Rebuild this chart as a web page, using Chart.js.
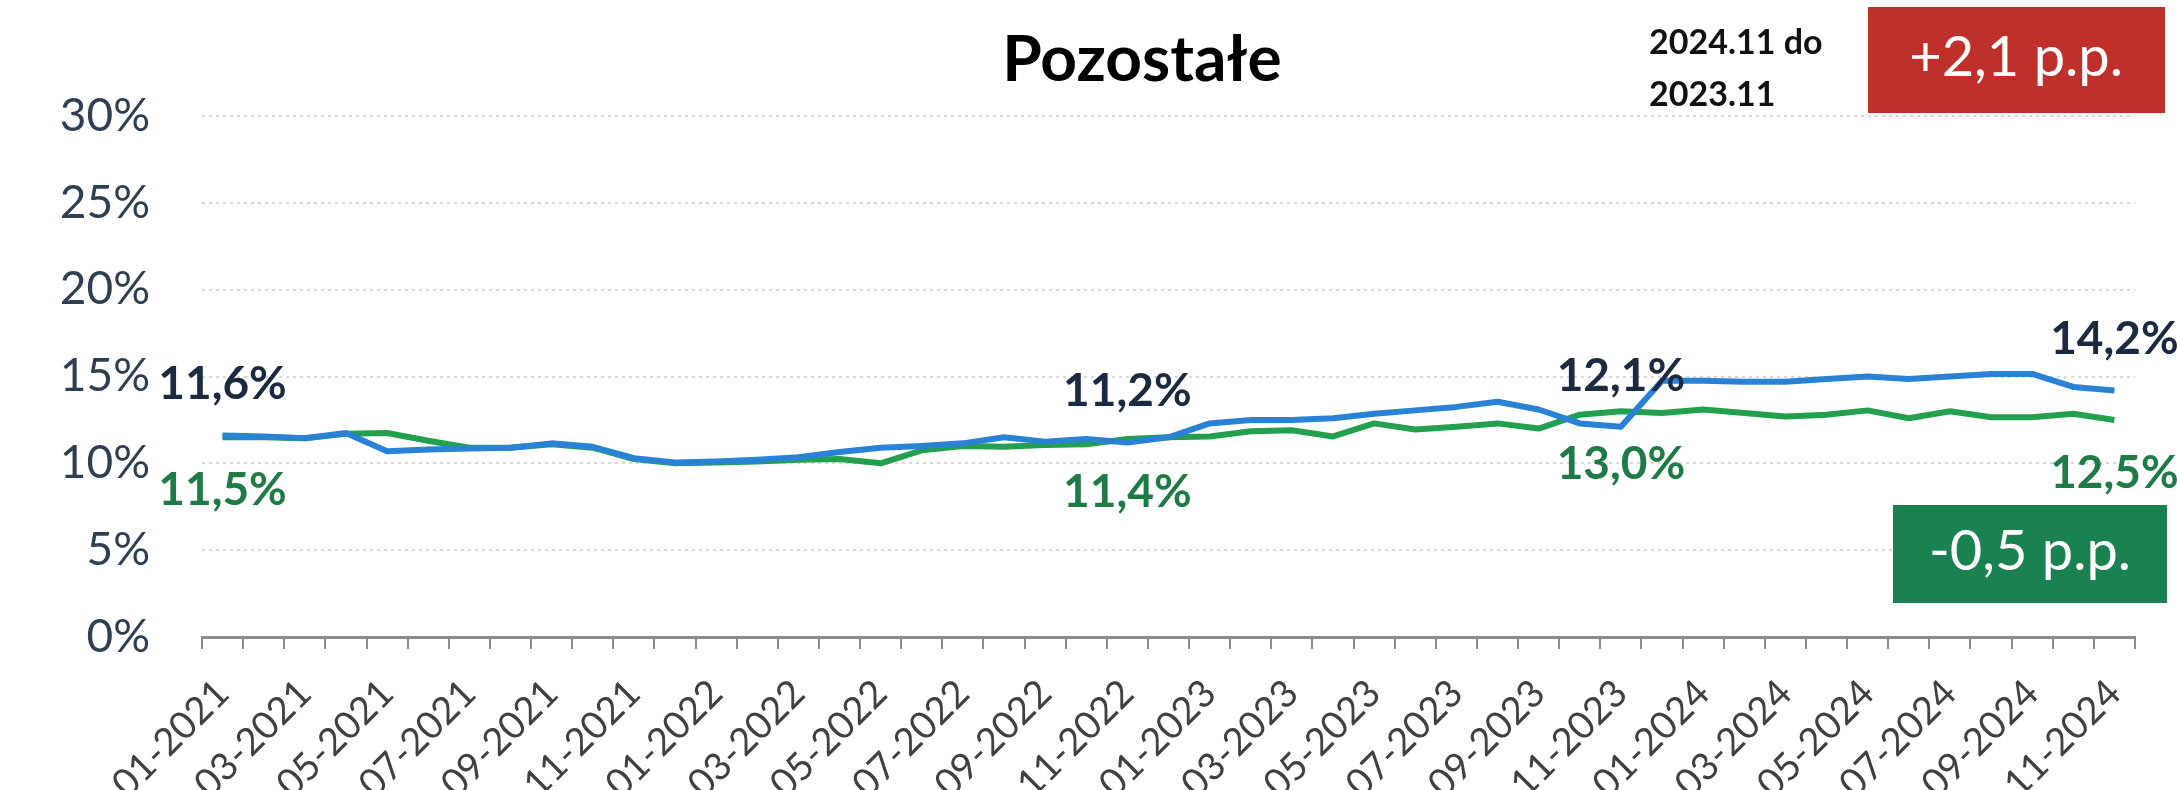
<!DOCTYPE html>
<html>
<head>
<meta charset="utf-8">
<script src="https://cdn.jsdelivr.net/npm/chart.js@4"></script>
<style>
  html, body { margin: 0; padding: 0; background: #fff; }
  #wrap { width: 2177px; height: 790px; position: relative; }
</style>
</head>
<body>
<div id="wrap"><canvas id="chart"></canvas></div>
<script>
// months 01-2021 .. 11-2024
const months = []
for (let y = 2021; y <= 2024; y++) {
  for (let m = 1; m <= 12; m++) {
    if (y === 2024 && m > 11) break
    months.push(String(m).padStart(2, '0') + '-' + y)
  }
}

const blueSeries = [
  11.6, 11.55, 11.45, 11.75, 10.7, 10.8, 10.85, 10.9, 11.15, 10.95,
  10.3, 10.05, 10.1, 10.2, 10.35, 10.65, 10.9, 11.0, 11.15, 11.5,
  11.25, 11.4, 11.2, 11.5, 12.3, 12.5, 12.5, 12.6, 12.85, 13.05,
  13.25, 13.55, 13.1, 12.3, 12.1, 14.75, 14.75, 14.7, 14.7, 14.85,
  15.0, 14.85, 15.0, 15.15, 15.15, 14.4, 14.2
]
const greenSeries = [
  11.5, 11.5, 11.45, 11.7, 11.75, 11.3, 10.9, 10.9, 11.1, 10.9,
  10.25, 10.0, 10.05, 10.1, 10.2, 10.25, 10.0, 10.75, 11.0, 10.95,
  11.05, 11.1, 11.4, 11.5, 11.55, 11.85, 11.9, 11.55, 12.3, 11.95,
  12.1, 12.3, 12.0, 12.8, 13.0, 12.9, 13.1, 12.9, 12.7, 12.8,
  13.05, 12.6, 13.0, 12.65, 12.65, 12.85, 12.5
]
const labelledPoints = [0, 22, 34, 46]
const yTicks = [0, 5, 10, 15, 20, 25, 30]

const chartTitle = 'Pozostałe'
const periodText = ['2024.11 do', '2023.11']
const blueChange = '+2,1 p.p.'
const greenChange = '-0,5 p.p.'

const FONT = "Lato, 'Open Sans', sans-serif"
const BLUE = '#2a82d6'
const GREEN = '#23a04e'

const fmt = (v) => v.toFixed(1).replace('.', ',') + '%'

const annotations = {
  id: 'annotations',
  afterDatasetsDraw(chart) {
    const ctx = chart.ctx
    ctx.save()
    ctx.textAlign = 'center'
    ctx.textBaseline = 'middle'

    // point value labels
    const blueMeta = chart.getDatasetMeta(0)
    const greenMeta = chart.getDatasetMeta(1)
    ctx.font = 'bold 46px ' + FONT
    labelledPoints.forEach(i => {
      const pb = blueMeta.data[i]
      ctx.fillStyle = '#1b2a41'
      ctx.fillText(fmt(blueSeries[i]), pb.x, pb.y - 51)
      const pg = greenMeta.data[i]
      ctx.fillStyle = '#1f7b45'
      ctx.fillText(fmt(greenSeries[i]), pg.x, pg.y + 53)
    })

    // title
    ctx.fillStyle = '#000'
    ctx.font = 'bold 64px ' + FONT
    ctx.fillText(chartTitle, 1142, 60)

    // period text
    ctx.textAlign = 'left'
    ctx.font = 'bold 34px ' + FONT
    ctx.fillStyle = '#111'
    ctx.fillText(periodText[0], 1649, 43)
    ctx.fillText(periodText[1], 1649, 95)

    // change boxes
    ctx.textAlign = 'center'
    ctx.font = '56px ' + FONT
    ctx.fillStyle = '#c0302b'
    ctx.fillRect(1868, 7, 297, 106)
    ctx.fillStyle = '#fff'
    ctx.fillText(blueChange, 2016, 58)

    ctx.fillStyle = '#1a8150'
    ctx.fillRect(1893, 505, 274, 98)
    ctx.fillStyle = '#fff'
    ctx.fillText(greenChange, 2030, 552)
    ctx.restore()
  }
}

new Chart(document.getElementById('chart'), {
  type: 'line',
  data: {
    labels: months,
    datasets: [
      {
        label: 'blue',
        data: blueSeries,
        borderColor: BLUE,
        borderWidth: 6,
        pointRadius: 0,
        tension: 0,
        borderJoinStyle: 'round',
        fill: false,
      },
      {
        label: 'green',
        data: greenSeries,
        borderColor: GREEN,
        borderWidth: 6,
        pointRadius: 0,
        tension: 0,
        borderJoinStyle: 'round',
        fill: false,
      }
    ]
  },
  options: {
    responsive: true,
    maintainAspectRatio: false,
    animation: false,
    layout: { padding: { top: 116, right: 42, left: 0, bottom: 0 } },
    plugins: {
      legend: { display: false },
      tooltip: { enabled: false },
    },
    scales: {
      x: {
        offset: true,
        grid: {
          offset: true,
          drawOnChartArea: false,
          drawTicks: true,
          tickLength: 12,
          color: '#8c8c8c',
          lineWidth: 2,
        },
        border: { display: true, color: '#8c8c8c', width: 3 },
        ticks: {
          autoSkip: false,
          minRotation: 45,
          maxRotation: 45,
          padding: 22,
          color: '#404040',
          font: { family: FONT, size: 38 },
          callback: (v, i) => i % 2 === 0 ? months[i] : '',
        },
        afterFit: (s) => { s.height = 153 },
      },
      y: {
        min: yTicks[0],
        max: yTicks[yTicks.length - 1],
        afterBuildTicks: (s) => { s.ticks = yTicks.map(v => ({ value: v })) },
        grid: {
          drawTicks: false,
          color: (c) => c.tick && c.tick.value === 0 ? 'rgba(0,0,0,0)' : '#d9d9d9',
          lineWidth: 2,
        },
        border: { display: false, dash: [3, 4] },
        ticks: {
          padding: 52,
          color: '#2f3f52',
          font: { family: FONT, size: 46 },
          callback: (v) => v + '%',
        },
        afterFit: (s) => { s.width = 202 },
      }
    }
  },
  plugins: [annotations]
})
</script>
</body>
</html>
